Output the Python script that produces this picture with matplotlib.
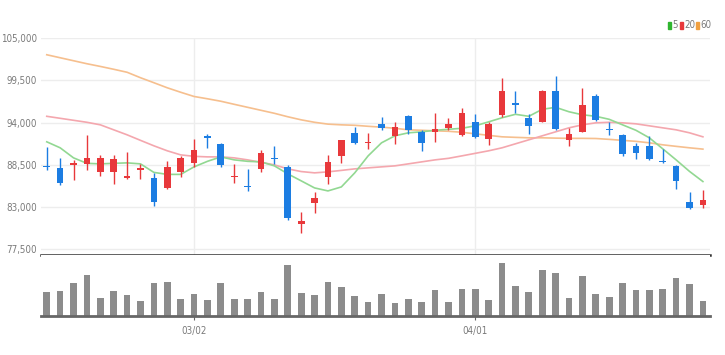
# Imports
import numpy as np
import matplotlib
matplotlib.use('Agg')
import matplotlib.pyplot as plt
from matplotlib import font_manager
from matplotlib.patches import Rectangle

# Daily candles (50 trading days)
opens = [88360, 88060, 88490, 88620, 87540, 87540, 86760, 87780, 86800, 85460,
         87540, 88710, 92270, 91230, 86930, 85790, 87970, 89400, 88270, 80740,
         83480, 86890, 89660, 92660, 91320, 93830, 92270, 94810, 92730, 92830,
         93270, 92400, 94130, 91880, 94920, 96500, 94550, 94060, 98130, 91680,
         92750, 97510, 93140, 92400, 90970, 90970, 89010, 88400, 83710, 83280]
highs = [90880, 89400, 89080, 92400, 89800, 89760, 90120, 88620, 87380, 88970,
         89630, 91880, 92490, 91290, 88620, 87900, 90450, 90970, 88430, 82400,
         84910, 89790, 91750, 93480, 92620, 94780, 94090, 95010, 93050, 95200,
         94620, 95880, 95140, 94030, 99790, 98130, 95070, 98260, 100000, 93310,
         98490, 97650, 94090, 92570, 91360, 92230, 90540, 88490, 85010, 85240]
lows = [87840, 85890, 86540, 87770, 86990, 85980, 86670, 86630, 83190, 85360,
        86970, 88270, 90670, 88230, 86110, 85100, 87580, 88620, 81260, 79570,
        82240, 86050, 88790, 91230, 90580, 92990, 91270, 92530, 90320, 91530,
        93090, 92270, 91970, 91100, 94780, 95200, 92490, 94030, 93050, 90930,
        92730, 94220, 92340, 89700, 89230, 89180, 88790, 85320, 82760, 82850]
closes = [88190, 86110, 88710, 89400, 89400, 89230, 87060, 88100, 83610, 88230,
          89440, 90450, 92050, 88490, 87100, 85620, 90020, 89210, 81550, 81190,
          84190, 88920, 91680, 91320, 91530, 93250, 93480, 93050, 91320, 93140,
          93790, 95180, 92180, 93790, 98130, 96220, 93510, 98130, 93140, 92570,
          96220, 94350, 92990, 89930, 90050, 89230, 88840, 86450, 82820, 83870]

# Volume (thousand shares)
volumes = [237, 253, 330, 413, 177, 250, 210, 153, 330, 337,
           170, 223, 160, 330, 170, 170, 237, 170, 513, 233,
           210, 337, 287, 200, 137, 223, 127, 173, 137, 263,
           137, 270, 270, 157, 530, 300, 237, 463, 427, 183,
           400, 220, 190, 330, 257, 263, 270, 377, 317, 153]

# Moving averages
ma5 = [91490, 90710, 89400, 88690, 88620, 88690, 88750, 88620, 87510, 87250,
       87250, 88230, 88950, 89530, 89140, 88950, 88880, 88360, 87320, 86410,
       85490, 85100, 85620, 87450, 89660, 91360, 92270, 92660, 92790, 92990,
       93120, 93250, 93570, 94090, 94620, 95070, 94810, 95720, 95980, 95400,
       95010, 94810, 94420, 93700, 92990, 92010, 90580, 89140, 87640, 86320]
ma20 = [94810, 94550, 94290, 94030, 93700, 93050, 92400, 91680, 90970, 90320,
        89790, 89600, 89530, 89530, 89400, 89140, 88820, 88490, 87970, 87620,
        87450, 87580, 87770, 87970, 88100, 88230, 88360, 88620, 88880, 89140,
        89340, 89660, 89990, 90320, 90710, 91230, 91750, 92270, 92790, 93310,
        93700, 93960, 94030, 93960, 93830, 93570, 93310, 93050, 92660, 92140]
ma60 = [102820, 102430, 102040, 101650, 101300, 100930, 100540, 99830, 99180, 98520,
        97940, 97390, 97090, 96770, 96370, 95980, 95590, 95200, 94750, 94350,
        94030, 93790, 93700, 93640, 93510, 93400, 93250, 93050, 92990, 92920,
        92860, 92730, 92530, 92330, 92140, 92070, 92010, 92010, 91970, 91940,
        91940, 91920, 91810, 91680, 91550, 91360, 91100, 90900, 90710, 90540]

tick_idx = [11, 32]
tick_labels = ['03/02', '04/01']
price_ticks = [77500, 83000, 88500, 94000, 99500, 105000]

# Look for a condensed font file; the labels in the chart are very narrow
narrow = None
for f in font_manager.fontManager.ttflist:
    if 'condensed' in str(f.stretch) or 'Narrow' in f.name or 'Condensed' in f.fname:
        if f.style == 'normal' and f.weight in (400, 'normal', 'regular'):
            narrow = f.fname
            break
if narrow:
    fp = font_manager.FontProperties(fname=narrow, size=7)
    label_size = 7
else:
    fp = font_manager.FontProperties(family='DejaVu Sans', size=6)
    label_size = 6

red = '#e8383b'
blue = '#1c7de2'
label_color = '#7a7a7a'

fig = plt.figure(figsize=(7.25, 3.55), dpi=100)
ax = fig.add_axes([41 / 725, 100 / 355, 669 / 725, 217 / 355])
axv = fig.add_axes([41 / 725, 39 / 355, 669 / 725, 61 / 355], sharex=ax)

x = np.arange(len(closes))
o = np.array(opens)
c = np.array(closes)
colors = [red if c[i] >= o[i] else blue for i in range(len(x))]

# Moving average lines (behind candles)
ax.plot(x, ma60, color='#f6bf8e', lw=1.2, zorder=2)
ax.plot(x, ma20, color='#f4a7ae', lw=1.2, zorder=2)
ax.plot(x, ma5, color='#92d892', lw=1.2, zorder=2)

# Candles: wicks then bodies
ax.vlines(x, lows, highs, colors=colors, lw=1, zorder=3)
ax.bar(x, np.abs(c - o), bottom=np.minimum(o, c), width=0.5, color=colors, zorder=4)

ax.set_xlim(-0.43, 49.53)
ax.set_ylim(76760, 105000)
ax.set_yticks(price_ticks)
ax.set_yticklabels([f'{v:,}' for v in price_ticks], fontproperties=fp)
ax.set_xticks(tick_idx)
ax.tick_params(axis='y', length=0, pad=3, labelcolor=label_color)
ax.tick_params(axis='x', length=0, labelbottom=False)
ax.grid(True, color='#ededed', lw=1, zorder=0)
for side in ['top', 'left', 'right']:
    ax.spines[side].set_visible(False)
ax.spines['bottom'].set_color('#333333')
ax.spines['bottom'].set_linewidth(1.8)

# Volume panel
axv.bar(x, volumes, width=0.5, color='#8c8c8c', zorder=2)
axv.set_ylim(0, 610)
axv.set_yticks([])
axv.set_xticks(tick_idx)
axv.set_xticklabels(tick_labels, fontproperties=fp)
axv.tick_params(axis='x', length=3, color='#666666', pad=4, labelcolor=label_color)
for side in ['top', 'left', 'right']:
    axv.spines[side].set_visible(False)
axv.spines['bottom'].set_color('#666666')
axv.spines['bottom'].set_linewidth(2)

# Legend in the top right corner
legend = [('5', '#2fb52f', 668), ('20', '#e8383b', 680), ('60', '#f0a040', 696)]
for text, col, px in legend:
    fig.patches.append(Rectangle((px / 725, (355 - 29) / 355), 3 / 725, 7 / 355,
                                 transform=fig.transFigure, color=col))
    fig.text((px + 4) / 725, (355 - 25.5) / 355, text, fontproperties=fp,
             color=label_color, va='center', ha='left')

fig.savefig('out.png', dpi=100)
